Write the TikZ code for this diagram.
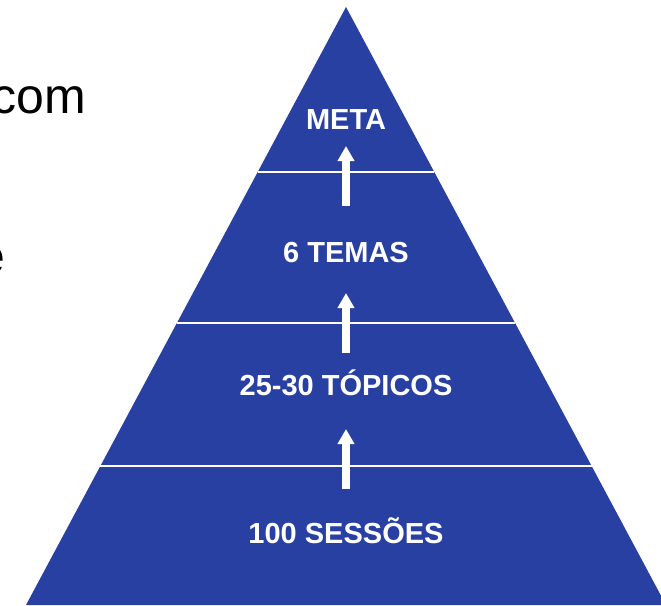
\documentclass[tikz,border=0pt]{standalone}
\usepackage{fontspec}
\setmainfont{Liberation Sans}
\usetikzlibrary{arrows.meta,calc}
\definecolor{pyrblue}{RGB}{41,64,163}

\begin{document}
\begin{tikzpicture}[x=1pt,y=-1pt,
        lbl/.style={text=white, font=\fontsize{29}{34}\selectfont\bfseries, inner sep=0pt, anchor=base},
        side/.style={text=black, font=\fontsize{50}{60}\selectfont, inner sep=0pt, anchor=base west},
        divider/.style={white, line width=2pt},
        up/.style={white, line width=8pt, -{Triangle[width=16pt,length=15pt]}}]
        \clip (0,0) rectangle (661,605);
        % pyramid
        \coordinate (top) at (346,7);
        \coordinate (bl) at (26,605);
        \coordinate (br) at (666,605);
        \fill[pyrblue] (top) -- (br) -- (bl) -- cycle;
        \draw[divider] ($(top)!0.276!(bl)$) -- ($(top)!0.276!(br)$);
        \draw[divider] ($(top)!0.528!(bl)$) -- ($(top)!0.528!(br)$);
        \draw[divider] ($(top)!0.768!(bl)$) -- ($(top)!0.768!(br)$);
        % levels
        \node[lbl] (meta) at (346,129) {META};
        \node[lbl] (temas) at (346,262) {6 TEMAS};
        \node[lbl] (topicos) at (346,395) {25-30 TÓPICOS};
        \node[lbl] (sessoes) at (346,543) {100 SESSÕES};
        % arrows
        \coordinate (a1s) at (346,206);
        \coordinate (a1e) at (346,146);
        \coordinate (a2s) at (346,353);
        \coordinate (a2e) at (346,293);
        \coordinate (a3s) at (346,489);
        \coordinate (a3e) at (346,429);
        \draw[up] (a1s) -- (a1e);
        \draw[up] (a2s) -- (a2e);
        \draw[up] (a3s) -- (a3e);
        % text cut off at the left
        \node[side] (com) at (-9,113) {com};
        \node[side] (e) at (-23,273) {e};
\end{tikzpicture}
\end{document}
